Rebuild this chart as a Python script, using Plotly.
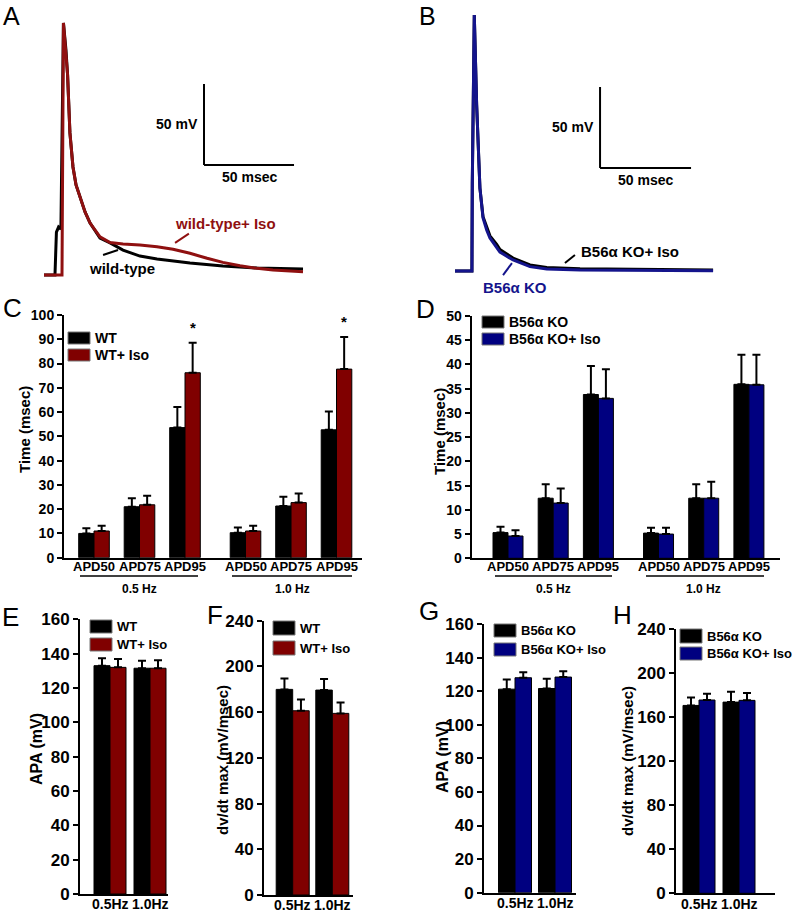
import plotly.graph_objects as go

W, H = 793, 913
FONT = "Arial, Liberation Sans, sans-serif"
BLACK = "#000000"
RED = "#800000"
BLUE = "#000080"
TRACE_RED = "#8f1010"
TRACE_BLUE = "#14148c"

# ---- A: action potentials, wild-type (ms, mV)
A_WT_T = [0, 6.1, 6.9, 8.1, 9.4, 10.8, 12.2, 13.1, 14.4, 16.1, 17.8, 20.0, 22.8, 25.6,
          31.1, 36.7, 43.9, 53.3, 62.8, 81.1, 99.4, 118.3, 143.9]
A_WT_V = [-78, -78, -51.5, -48.4, -49.6, 77.6, 60.9, 45.5, 9.7, -11.3, -22.4, -29.9, -39.1, -45.9,
          -55.2, -58.2, -62.6, -66.3, -68.1, -70.6, -72.4, -73.7, -74.3]
A_ISO_T = [0, 10.0, 10.8, 12.2, 13.1, 14.4, 16.1, 17.8, 20.0, 22.8, 25.6, 31.1, 36.7, 43.9,
           53.3, 62.8, 71.7, 81.1, 90.6, 99.4, 108.9, 118.3, 127.2, 143.9]
A_ISO_V = [-78, -78, 77.6, 60.9, 45.5, 9.7, -11.3, -22.4, -29.9, -39.1, -45.9, -54.5, -58.0, -58.9,
           -59.5, -60.5, -62.1, -64.6, -67.7, -70.2, -72.3, -73.9, -74.9, -76.0]

# ---- B: action potentials, B56a KO (ms, mV)
B_KO_T = [0, 9.3, 9.5, 10.6, 11.9, 13.7, 15.4, 17.4, 19.2, 22.9, 24.7, 31.9, 41.2, 50.4, 68.7, 141.8]
B_KO_V = [-78, -78, -23.7, 80.0, 24.5, -26.8, -45.3, -52.7, -57.6, -63.0, -66.3, -71.2, -75.3, -76.8,
          -77.4, -77.8]
B_ISO_T = [0, 9.3, 9.5, 10.6, 11.9, 13.7, 15.4, 17.4, 19.2, 22.9, 24.7, 31.9, 41.2, 50.4, 68.7, 141.8]
B_ISO_V = [-78, -78, -23.7, 80.0, 24.5, -26.8, -44.5, -51.5, -56.3, -61.6, -64.8, -70.0, -74.3, -75.8,
           -76.6, -77.4]

# ---- C / D: APD (msec)
APD_LABELS = ["APD50", "APD75", "APD95", "APD50", "APD75", "APD95"]
FREQ_GROUPS = ["0.5 Hz", "1.0 Hz"]
C_WT = [10.0, 21.0, 53.6, 10.3, 21.3, 52.7]
C_WT_ERR = [2.1, 3.5, 8.5, 2.1, 3.8, 7.5]
C_ISO = [11.0, 21.8, 76.2, 11.0, 22.7, 77.7]
C_ISO_ERR = [2.2, 3.7, 12.4, 2.2, 3.8, 13.2]
C_SIG = ["", "", "*", "", "", "*"]

D_KO = [5.3, 12.4, 33.8, 5.2, 12.4, 35.9]
D_KO_ERR = [1.2, 2.9, 5.9, 1.1, 2.9, 6.1]
D_ISO = [4.6, 11.4, 33.0, 5.0, 12.4, 35.8]
D_ISO_ERR = [1.2, 3.0, 6.0, 1.3, 3.4, 6.2]

# ---- E-H: APA and dV/dt max
HZ_LABELS = ["0.5Hz", "1.0Hz"]
E_WT = [133.0, 131.5]
E_WT_ERR = [4.3, 4.3]
E_ISO = [132.0, 131.5]
E_ISO_ERR = [4.9, 4.6]
F_WT = [179.9, 179.3]
F_WT_ERR = [9.6, 9.6]
F_ISO = [161.2, 158.9]
F_ISO_ERR = [9.9, 9.6]
G_KO = [121.2, 121.6]
G_KO_ERR = [5.8, 5.8]
G_ISO = [128.0, 128.4]
G_ISO_ERR = [3.2, 3.5]
H_KO = [170.6, 173.6]
H_KO_ERR = [7.3, 9.4]
H_ISO = [175.5, 175.2]
H_ISO_ERR = [5.7, 6.6]

SCALE_MV = 50
SCALE_MS = 50


def px(x):
    return x / W


def py(y):
    return 1 - y / H


fig = go.Figure()
shapes = []
annots = []


def text(x, y, s, size=14, color=BLACK, bold=True, xanchor="center", yanchor="middle",
         xref="paper", yref="paper", angle=0):
    annots.append(dict(x=x, y=y, text=s, showarrow=False, xref=xref, yref=yref,
                       xanchor=xanchor, yanchor=yanchor, textangle=angle,
                       font=dict(family=FONT, size=size, color=color,
                                 weight="bold" if bold else "normal")))


def hidden_axis(dom, rng):
    return dict(domain=dom, range=rng, visible=False, fixedrange=True, automargin=False)


# ---------- trace panels ----------
def trace_panel(n, box, t0_px, sx, v0_px, sy, traces, bar_t, bar_v):
    # box: left, top, right, bottom in px; t=0 at t0_px, V=-78 at v0_px
    left, top, right, bottom = box
    xr = [(left - t0_px) / sx, (right - t0_px) / sx]
    yr = [-78 - (bottom - v0_px) / sy, -78 + (v0_px - top) / sy]
    sfx = "" if n == 1 else str(n)
    fig.layout["xaxis" + sfx] = hidden_axis([px(left), px(right)], xr)
    fig.layout["yaxis" + sfx] = hidden_axis([py(bottom), py(top)], yr)
    for t, v, col in traces:
        fig.add_trace(go.Scatter(x=t, y=v, mode="lines", line=dict(color=col, width=3),
                                 xaxis="x" + sfx, yaxis="y" + sfx, showlegend=False,
                                 hoverinfo="skip"))
    xr_, yr_ = "x" + sfx, "y" + sfx
    shapes.append(dict(type="line", xref=xr_, yref=yr_, x0=bar_t, x1=bar_t,
                       y0=bar_v, y1=bar_v + SCALE_MV, line=dict(color=BLACK, width=2)))
    shapes.append(dict(type="line", xref=xr_, yref=yr_, x0=bar_t, x1=bar_t + SCALE_MS,
                       y0=bar_v, y1=bar_v, line=dict(color=BLACK, width=2)))
    text(bar_t, bar_v + SCALE_MV / 2, f"{SCALE_MV} mV", xanchor="right", xref=xr_, yref=yr_)
    annots[-1]["xshift"] = -4
    text(bar_t + SCALE_MS / 2, bar_v, f"{SCALE_MS} msec", yanchor="top", xref=xr_, yref=yr_)
    annots[-1]["yshift"] = -2


trace_panel(1, (30, 5, 395, 292), 44, 1.8, 275, 1.62,
            [(A_WT_T, A_WT_V, BLACK), (A_ISO_T, A_ISO_V, TRACE_RED)], 88.9, -10.1)
text(100.6, -46.5, "wild-type+ Iso", size=15, color=TRACE_RED, xref="x", yref="y")
text(43.3, -73.7, "wild-type", size=15, xref="x", yref="y")
shapes.append(dict(type="line", xref="x", yref="y", x0=72.8, y0=-58.2, x1=80.5, y1=-52.5,
                   line=dict(color=TRACE_RED, width=2)))
shapes.append(dict(type="line", xref="x", yref="y", x0=32.8, y0=-65.7, x1=41.1, y1=-62.6,
                   line=dict(color=BLACK, width=2)))

trace_panel(2, (440, 5, 790, 292), 455, 1.82, 271, 1.62,
            [(B_ISO_T, B_ISO_V, BLACK), (B_KO_T, B_KO_V, TRACE_BLUE)], 79.7, -14.4)
text(96.2, -65.7, "B56\u03b1 KO+ Iso", size=15, xref="x2", yref="y2")
text(33.0, -87.9, "B56\u03b1 KO", size=15, color=TRACE_BLUE, xref="x2", yref="y2")
shapes.append(dict(type="line", xref="x2", yref="y2", x0=60.4, y0=-73.1, x1=65.9, y1=-68.1,
                   line=dict(color=BLACK, width=2)))
shapes.append(dict(type="line", xref="x2", yref="y2", x0=26.4, y0=-80.5, x1=31.3, y1=-73.1,
                   line=dict(color=TRACE_BLUE, width=2)))


# ---------- bar panels ----------
def bar_panel(n, geom, pos, labels, s1, e1, c1, s2, e2, c2, ymax, dtick, tfs, xfs, label_y):
    left, right, top, bottom, c0, step, bw = geom
    sfx = str(n)
    xr = [(left - c0) / step, (right - c0) / step]
    w = bw / step
    for vals, errs, col, off in [(s1, e1, c1, -w), (s2, e2, c2, 0)]:
        fig.add_trace(go.Bar(
            x=pos, y=vals, width=w, offset=off,
            marker=dict(color=col, line=dict(color=BLACK, width=1)),
            error_y=dict(type="data", array=errs, arrayminus=[0] * len(errs), symmetric=False,
                         color=BLACK, thickness=2, width=4),
            xaxis="x" + sfx, yaxis="y" + sfx, showlegend=False, hoverinfo="skip"))
    fig.layout["xaxis" + sfx] = dict(
        domain=[px(left), px(right)], range=xr, showline=True, linecolor=BLACK, linewidth=2,
        ticks="", showticklabels=False, showgrid=False, zeroline=False,
        anchor="y" + sfx, fixedrange=True, automargin=False)
    fig.layout["yaxis" + sfx] = dict(
        domain=[py(bottom), py(top)], range=[0, ymax], showline=True, linecolor=BLACK,
        linewidth=2, ticks="outside", ticklen=5, tickwidth=2, tickcolor=BLACK, dtick=dtick,
        showgrid=False, zeroline=False, anchor="x" + sfx, automargin=False,
        tickfont=dict(family=FONT, size=tfs, color=BLACK, weight="bold"), fixedrange=True)
    # category labels under the axis
    for p, lab in zip(pos, labels):
        text(p, py(label_y), lab, size=xfs, xref="x" + sfx)
    return w


def legend_box(x0, ys, items, size):
    for (y0, y1), (lab, col) in zip(ys, items):
        shapes.append(dict(type="rect", xref="paper", yref="paper", x0=px(x0), x1=px(x0 + 22),
                           y0=py(y1), y1=py(y0), fillcolor=col,
                           line=dict(color="#777777", width=1)))
        text(px(x0 + 25), py((y0 + y1) / 2), lab, size=size, xanchor="left")


APD_POS = [0, 1, 2, 3.33, 4.33, 5.33]
HZ_POS = [0, 1]

wc = bar_panel(3, (64, 362, 315, 557.7, 94, 45.5, 15.3), APD_POS, APD_LABELS,
               C_WT, C_WT_ERR, BLACK, C_ISO, C_ISO_ERR, RED, 100, 10, 14, 13, 566)
for p, v, e, s in zip(APD_POS, C_ISO, C_ISO_ERR, C_SIG):
    if s:
        text(p + wc / 2, v + e + 2, s, size=15, xref="x3", yref="y3", yanchor="bottom")
bar_panel(4, (471.7, 780, 316, 558.3, 508, 45.2, 15), APD_POS, APD_LABELS,
          D_KO, D_KO_ERR, BLACK, D_ISO, D_ISO_ERR, BLUE, 50, 5, 14, 13, 566)
bar_panel(5, (80, 168, 619.3, 894, 110, 40, 16), HZ_POS, HZ_LABELS,
          E_WT, E_WT_ERR, BLACK, E_ISO, E_ISO_ERR, RED, 160, 20, 17, 14, 904)
bar_panel(6, (264, 353, 620.7, 895, 292.7, 39.6, 16.5), HZ_POS, HZ_LABELS,
          F_WT, F_WT_ERR, BLACK, F_ISO, F_ISO_ERR, RED, 240, 40, 17, 14, 905)
bar_panel(7, (484, 576, 624, 892.7, 515, 40, 16.5), HZ_POS, HZ_LABELS,
          G_KO, G_KO_ERR, BLACK, G_ISO, G_ISO_ERR, BLUE, 160, 20, 17, 14, 903)
bar_panel(8, (676, 775, 629, 893.3, 699, 40, 16), HZ_POS, HZ_LABELS,
          H_KO, H_KO_ERR, BLACK, H_ISO, H_ISO_ERR, BLUE, 240, 40, 17, 14, 904)

# frequency group underlines + labels for C and D
for lines, centers in [([(80, 198), (232, 352)], [139, 292]),
                       ([(495, 612), (646, 764)], [553, 703])]:
    for (a, b), cx, lab in zip(lines, centers, FREQ_GROUPS):
        shapes.append(dict(type="line", xref="paper", yref="paper", x0=px(a), x1=px(b),
                           y0=py(576), y1=py(576), line=dict(color=BLACK, width=1.5)))
        text(px(cx), py(589), lab, size=12)

# legends
WT_ITEMS = [("WT", BLACK), ("WT+ Iso", RED)]
KO_ITEMS = [("B56\u03b1 KO", BLACK), ("B56\u03b1 KO+ Iso", BLUE)]
legend_box(68, [(332, 344), (349, 361)], WT_ITEMS, 14)
legend_box(482, [(316, 328), (333, 345)], KO_ITEMS, 14)
legend_box(90, [(620, 633), (638, 651)], WT_ITEMS, 13)
legend_box(273, [(621, 635), (641, 655)], WT_ITEMS, 13)
legend_box(494, [(624, 637), (643, 656)], KO_ITEMS, 13)
legend_box(680, [(629, 643), (647, 660)], KO_ITEMS, 13)

# y-axis titles
for x, y, s, fs in [(24, 430, "Time (msec)", 15), (439, 431, "Time (msec)", 15),
                    (36, 749, "APA (mV)", 16), (222, 760, "dv/dt max (mV/msec)", 15),
                    (442, 757, "APA (mV)", 16), (627, 761, "dv/dt max (mV/msec)", 15)]:
    text(px(x), py(y), s, size=fs, angle=-90)

# panel letters (A, B hang from the top edge)
text(px(11), 1, "A", size=25, bold=False, yanchor="top")
text(px(427), 1, "B", size=25, bold=False, yanchor="top")
for x, y, s in [(12, 308, "C"), (425, 309, "D"),
                (10, 617, "E"), (215, 615, "F"), (429, 611, "G"), (622, 615, "H")]:
    text(px(x), py(y), s, size=26, bold=False)

fig.update_layout(
    width=W, height=H, margin=dict(l=0, r=0, t=0, b=0, autoexpand=False),
    paper_bgcolor="white", plot_bgcolor="white", barmode="overlay",
    font=dict(family=FONT, color=BLACK),
    shapes=shapes, annotations=annots,
)

# page body has a default 8px margin; drop it so the figure sits at the window corner
fig.write_html("out.html", config={"displayModeBar": False},
               post_script="document.body.style.margin='0';")
